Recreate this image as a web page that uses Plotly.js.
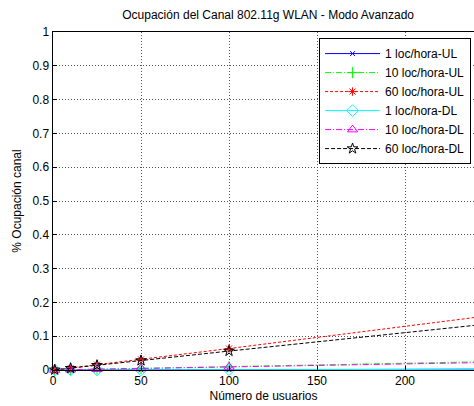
<!DOCTYPE html>
<html>
<head>
<meta charset="utf-8">
<script src="https://cdn.plot.ly/plotly-3.0.1.min.js"></script>
<style>html,body{margin:0;padding:0;background:#fff;overflow:hidden}</style>
</head>
<body>
<div id="chart" style="width:474px;height:406px"></div>
<script>
// Data
const usuarios = [1, 10, 25, 50, 100, 300];
const ul1  = [0.0000, 0.0001, 0.0003, 0.0005, 0.0010, 0.0030];
const ul10 = [0.0001, 0.0010, 0.0025, 0.0050, 0.0100, 0.0300];
const ul60 = [0.0006, 0.0062, 0.0160, 0.0315, 0.0635, 0.1950];
const dl1  = [0.0000, 0.0001, 0.0002, 0.0004, 0.0008, 0.0025];
const dl10 = [0.0001, 0.0009, 0.0022, 0.0045, 0.0090, 0.0270];
const dl60 = [0.0005, 0.0052, 0.0140, 0.0280, 0.0560, 0.1650];
const names = ['1 loc/hora-UL','10 loc/hora-UL','60 loc/hora-UL','1 loc/hora-DL','10 loc/hora-DL','60 loc/hora-DL'];
const xTicks = [0, 50, 100, 150, 200];
const yTicks = [0, 0.1, 0.2, 0.3, 0.4, 0.5, 0.6, 0.7, 0.8, 0.9, 1];

const series = [ul1, ul10, ul60, dl1, dl10, dl60];
const styles = [
  {color:'rgb(0,0,255)',   dash:'solid',           symbol:'x-thin-open',      size:5},
  {color:'rgb(0,255,0)',   dash:'6px,2px,1px,2px', symbol:'cross-thin-open',  size:8},
  {color:'rgb(255,0,0)',   dash:'3px,2px',         symbol:'asterisk-open',    size:7},
  {color:'rgb(0,255,255)', dash:'solid',           symbol:'diamond-open',     size:9},
  {color:'rgb(255,0,255)', dash:'6px,2px,1px,2px', symbol:'triangle-up-open', size:9},
  {color:'rgb(0,0,0)',     dash:'4px,2px',         symbol:'star-open',        size:8}
];

const traces = series.map((ys, i) => ({
  x: usuarios, y: ys, name: names[i], type: 'scatter', mode: 'lines+markers',
  line: {color: styles[i].color, width: 1, dash: styles[i].dash},
  marker: {symbol: styles[i].symbol, size: styles[i].size, color: styles[i].color,
           line: {color: styles[i].color, width: 1}},
  cliponaxis: false
}));

const layout = {
  width: 474, height: 406,
  margin: {l: 53, r: 0, t: 32, b: 36},
  paper_bgcolor: '#fff', plot_bgcolor: '#fff',
  font: {family: 'Liberation Sans, Arial, sans-serif', size: 12, color: '#000'},
  title: {text: 'Ocupación del Canal 802.11g WLAN - Modo Avanzado',
          font: {size: 12, color: '#000'}, x: 0.511, xref: 'paper', xanchor: 'center',
          y: 0.963, yref: 'container', yanchor: 'middle'},
  xaxis: {
    range: [0, 239.2], tickvals: xTicks, ticktext: xTicks.map(String),
    showgrid: true, gridcolor: '#555', griddash: '1px,2px', gridwidth: 1,
    showline: true, linecolor: '#000', linewidth: 1, mirror: true,
    ticks: 'inside', ticklen: 4, tickcolor: '#000', zeroline: false,
    tickfont: {size: 12},
    title: {text: 'Número de usuarios', font: {size: 12}, standoff: 4}
  },
  yaxis: {
    range: [0, 1], tickvals: yTicks, ticktext: yTicks.map(String),
    showgrid: true, gridcolor: '#555', griddash: '1px,2px', gridwidth: 1,
    showline: true, linecolor: '#000', linewidth: 1.5, mirror: false,
    ticks: 'inside', ticklen: 4, tickcolor: '#000', zeroline: false,
    tickfont: {size: 12},
    title: {text: '% Ocupación canal', font: {size: 12}, standoff: 8}
  },
  showlegend: true,
  legend: {x: 0.993, xanchor: 'right', y: 0.982, yanchor: 'top',
           bgcolor: '#fff', bordercolor: '#000', borderwidth: 1,
           font: {size: 12}, itemwidth: 55, tracegroupgap: 0}
};

Plotly.newPlot('chart', traces, layout, {displayModeBar: false, staticPlot: true});
</script>
</body>
</html>
